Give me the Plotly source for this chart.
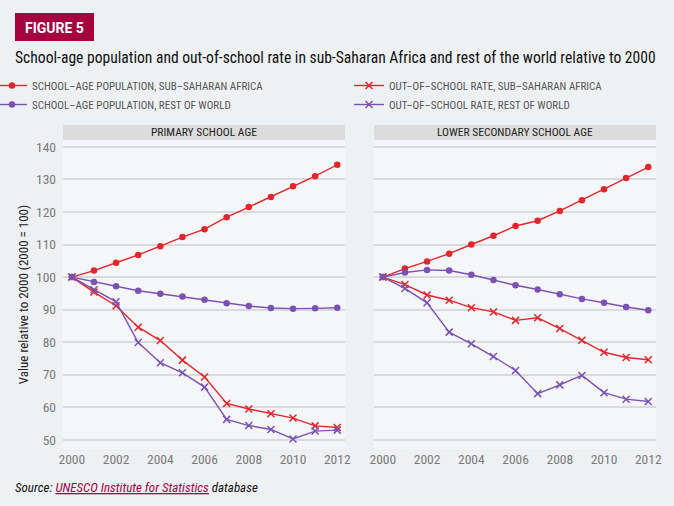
import plotly.graph_objects as go
from plotly.subplots import make_subplots

W, H = 674, 506

years = list(range(2000, 2013))

# Primary school age
prim_pop_ssa = [100, 102.0, 104.4, 106.8, 109.5, 112.3, 114.7, 118.4, 121.5, 124.6, 127.9, 131.0, 134.5]
prim_pop_row = [100, 98.5, 97.2, 95.8, 94.9, 94.0, 93.0, 92.0, 91.1, 90.5, 90.3, 90.4, 90.6]
prim_oos_ssa = [100, 95.4, 91.2, 84.6, 80.5, 74.5, 69.3, 61.2, 59.5, 58.0, 56.7, 54.3, 53.8]
prim_oos_row = [100, 96.1, 92.4, 79.9, 73.7, 70.6, 66.2, 56.3, 54.4, 53.2, 50.3, 52.7, 53.0]

# Lower secondary school age
lsec_pop_ssa = [100, 102.6, 104.8, 107.2, 110.0, 112.7, 115.7, 117.3, 120.3, 123.6, 127.0, 130.4, 133.8]
lsec_pop_row = [100, 101.4, 102.2, 102.0, 100.7, 99.1, 97.5, 96.2, 94.7, 93.3, 92.1, 90.8, 89.8]
lsec_oos_ssa = [100, 97.7, 94.5, 92.9, 90.6, 89.3, 86.7, 87.5, 84.2, 80.6, 76.9, 75.3, 74.6]
lsec_oos_row = [100, 96.5, 92.1, 83.1, 79.5, 75.6, 71.3, 64.2, 66.9, 69.8, 64.5, 62.5, 61.8]

series_names = [
    "SCHOOL\u2013AGE POPULATION, SUB\u2013SAHARAN AFRICA",
    "OUT\u2013OF\u2013SCHOOL RATE, SUB\u2013SAHARAN AFRICA",
    "SCHOOL\u2013AGE POPULATION, REST OF WORLD",
    "OUT\u2013OF\u2013SCHOOL RATE, REST OF WORLD",
]
panel_titles = ["PRIMARY SCHOOL AGE", "LOWER SECONDARY SCHOOL AGE"]
y_ticks = [50, 60, 70, 80, 90, 100, 110, 120, 130, 140]
x_ticks = [2000, 2002, 2004, 2006, 2008, 2010, 2012]

RED = "#e2262c"
PURPLE = "#7b52b3"
CRIMSON = "#a5003f"
BG = "#eef1f3"
PLOTBG = "#f5f6f9"
FONT = "Roboto Condensed, Liberation Sans Narrow, Roboto, sans-serif"


def px_x(p):
    return p / W


def px_y(p):
    return 1 - p / H


fig = make_subplots(rows=1, cols=2, shared_yaxes=True, horizontal_spacing=0.0)

panels = [
    (prim_pop_ssa, prim_oos_ssa, prim_pop_row, prim_oos_row),
    (lsec_pop_ssa, lsec_oos_ssa, lsec_pop_row, lsec_oos_row),
]
styles = [
    (RED, "circle", "legend"),
    (RED, "x-thin", "legend2"),
    (PURPLE, "circle", "legend"),
    (PURPLE, "x-thin", "legend2"),
]
for ci, data in enumerate(panels):
    for si, vals in enumerate(data):
        color, sym, leg = styles[si]
        marker = dict(color=color, symbol=sym, size=6.5 if sym == "circle" else 7,
                      line=dict(color=color, width=1.5 if sym != "circle" else 0))
        fig.add_trace(
            go.Scatter(
                x=years, y=vals, mode="lines+markers", name=series_names[si],
                line=dict(color=color, width=1.4), marker=marker,
                showlegend=(ci == 0), legendgroup=str(si), legend=leg,
                hoverinfo="x+y",
            ),
            row=1, col=ci + 1,
        )

top_px, bot_px = 140, 449
dom_left = [px_x(63), px_x(345)]
dom_right = [px_x(374), px_x(656)]

tickfont = dict(family=FONT, size=13.5, color="#7a7a7a")
fig.update_xaxes(showgrid=False, zeroline=False, showline=False, ticks="",
                 tickfont=tickfont, tickvals=x_ticks, range=[1999.6, 2012.35])
fig.update_xaxes(domain=dom_left, row=1, col=1)
fig.update_xaxes(domain=dom_right, row=1, col=2)
fig.update_yaxes(
    range=[47.2, 142.1], tickvals=y_ticks, showgrid=True, gridcolor="#d9dadd", gridwidth=1.5,
    zeroline=False, showline=False, ticks="", tickfont=tickfont,
    domain=[px_y(bot_px), px_y(top_px)],
)
fig.update_yaxes(showticklabels=False, row=1, col=2)
fig.update_yaxes(
    ticklabelstandoff=6,
    title=dict(text="Value relative to 2000 (2000 = 100)",
               font=dict(family=FONT, size=13, color="#222"), standoff=4),
    row=1, col=1,
)

shapes = []
annotations = []
# strip headers
for dom, title in zip([dom_left, dom_right], panel_titles):
    shapes.append(dict(type="rect", xref="paper", yref="paper",
                       x0=dom[0], x1=dom[1], y0=px_y(140), y1=px_y(125),
                       fillcolor="#dcdcdc", line=dict(width=0), layer="below"))
    annotations.append(dict(text=title, xref="paper", yref="paper",
                            x=(dom[0] + dom[1]) / 2, y=px_y(132.5), showarrow=False,
                            xanchor="center", yanchor="middle",
                            font=dict(family=FONT, size=11.5, color="#222")))

# figure label box
shapes.append(dict(type="rect", xref="paper", yref="paper",
                   x0=px_x(15), x1=px_x(94), y0=px_y(41), y1=px_y(13),
                   fillcolor=CRIMSON, line=dict(width=0)))
annotations.append(dict(text="<b>FIGURE 5</b>", xref="paper", yref="paper",
                        x=px_x(54), y=px_y(27.5), showarrow=False,
                        xanchor="center", yanchor="middle",
                        font=dict(family="Roboto, sans-serif", size=14, color="white")))

# title
annotations.append(dict(
    text="School-age population and out-of-school rate in sub-Saharan Africa and rest of the world relative to 2000",
    xref="paper", yref="paper", x=px_x(13), y=px_y(58), showarrow=False,
    xanchor="left", yanchor="middle",
    font=dict(family=FONT, size=15.6, color="#111")))

# source
annotations.append(dict(
    text="<i>Source: <span style='color:%s'><u>UNESCO Institute for Statistics</u></span> database</i>" % CRIMSON,
    xref="paper", yref="paper", x=px_x(13), y=px_y(487), showarrow=False,
    xanchor="left", yanchor="middle",
    font=dict(family=FONT, size=13, color="#111")))

legend_common = dict(
    orientation="v", yanchor="top", xanchor="left", itemwidth=30,
    font=dict(family=FONT, size=11, color="#555"),
    bgcolor="rgba(0,0,0,0)", tracegroupgap=0, traceorder="normal",
)
fig.update_layout(
    width=W, height=H,
    margin=dict(l=0, r=0, t=0, b=0, autoexpand=False),
    paper_bgcolor=BG, plot_bgcolor=PLOTBG,
    shapes=shapes, annotations=annotations,
    legend=dict(x=px_x(-8), y=px_y(71), **legend_common),
    legend2=dict(x=px_x(349), y=px_y(71), **legend_common),
    showlegend=True,
    hovermode="closest",
)

fig.write_html("out.html")
